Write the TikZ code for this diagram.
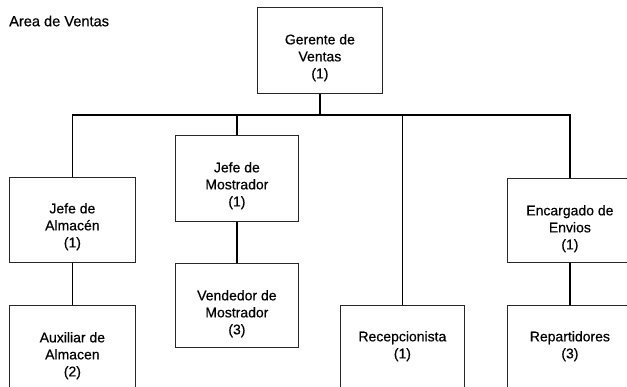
\documentclass[tikz,border=0pt]{standalone}
\usepackage{fontspec}
\setmainfont{Liberation Sans}
\newfontfamily\heavy{Liberation Sans}[FakeBold=0.5]
\begin{document}
\begin{tikzpicture}[x=1pt,y=-1pt,
  box/.style={draw=black!85,line width=0.8pt,rectangle,inner sep=0pt,minimum width=125pt,minimum height=86pt},
  tallbox/.style={box,minimum height=110pt},
  txt/.style={inner sep=0pt,align=center,anchor=north,font=\heavy\fontsize{14}{17}\selectfont},
  conn/.style={draw=black,line width=1.4pt}]
\useasboundingbox (0,0) rectangle (627,387);
\clip (0,0) rectangle (627,387);
\node[anchor=west,inner sep=0pt,font=\heavy\fontsize{14.6}{17}\selectfont] (title) at (9,21) {Area de Ventas};
% boxes
\node[box,anchor=north west] (ger) at (257,7) {};
\node[box,anchor=north west,minimum width=126pt,minimum height=85pt] (alm) at (9,177) {};
\node[box,anchor=north west,minimum width=123pt] (mos) at (175,135) {};
\node[box,anchor=north west,minimum width=123pt,minimum height=84pt] (ven) at (175,263) {};
\node[tallbox,anchor=north west,minimum width=126pt] (aux) at (9,305) {};
\node[tallbox,anchor=north west,minimum width=124pt] (rec) at (340,305) {};
\node[box,anchor=north west,minimum height=84pt] (enc) at (507,178) {};
\node[tallbox,anchor=north west] (rep) at (507,305) {};
% texts
\node[txt] (gert) at ([yshift=-27pt]ger.north) {Gerente de\\Ventas\\(1)};
\node[txt] (almt) at ([yshift=-26pt]alm.north) {Jefe de\\Almacén\\(1)};
\node[txt] (most) at ([yshift=-27pt]mos.north) {Jefe de\\Mostrador\\(1)};
\node[txt] (vent) at ([yshift=-27pt]ven.north) {Vendedor de\\Mostrador\\(3)};
\node[txt] (auxt) at ([yshift=-27pt]aux.north) {Auxiliar de\\Almacen\\(2)};
\node[txt] (rect) at ([yshift=-26pt]rec.north) {Recepcionista\\(1)};
\node[txt] (enct) at ([yshift=-27pt]enc.north) {Encargado de\\Envios\\(1)};
\node[txt] (rept) at ([yshift=-26pt]rep.north) {Repartidores\\(3)};
% connectors
\coordinate (bus) at (0,115);
\draw[conn] (ger.south) -- (ger.south |- bus);
\draw[conn] (alm.north) |- (enc.north |- bus) -- (enc.north);
\draw[conn] (mos.north) -- (mos.north |- bus);
\draw[conn] (rec.north) -- (rec.north |- bus);
\draw[conn] (alm.south) -- (aux.north);
\draw[conn] (mos.south) -- (ven.north);
\draw[conn] (enc.south) -- (rep.north);
\end{tikzpicture}
\end{document}
